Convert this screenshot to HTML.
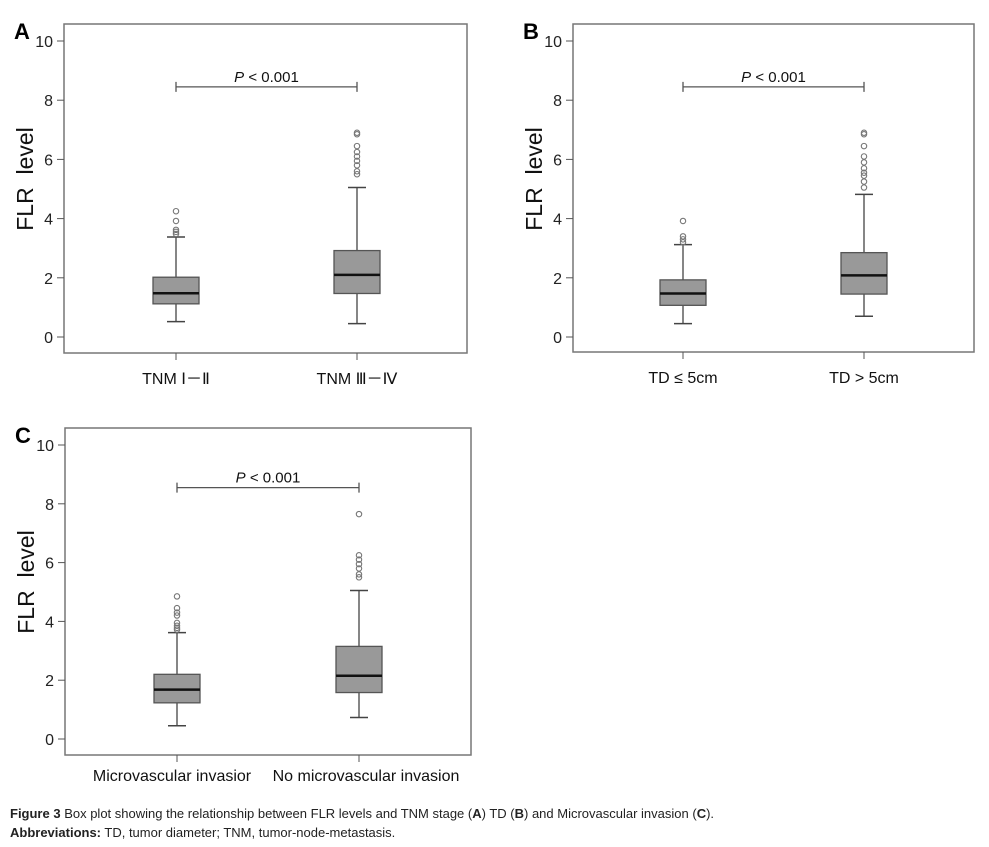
<!DOCTYPE html>
<html><head><meta charset="utf-8"><style>
body{margin:0;background:#fff;width:989px;height:847px;overflow:hidden;font-family:"Liberation Sans",sans-serif}
svg{position:absolute;left:0;top:0}
.cap{position:absolute;left:10px;font-size:13px;color:#222;white-space:nowrap}
</style></head><body>
<svg id="fig" width="989" height="847"></svg>
<div class="cap" style="top:806px"><b>Figure 3</b> Box plot showing the relationship between FLR levels and TNM stage (<b>A</b>) TD (<b>B</b>) and Microvascular invasion (<b>C</b>).</div>
<div class="cap" style="top:825px"><b>Abbreviations:</b> TD, tumor diameter; TNM, tumor-node-metastasis.</div>
<script>
const yTicks=[0,2,4,6,8,10];
const catsA=["TNM  Ⅰ－Ⅱ","TNM Ⅲ－Ⅳ"];
const catsB=["TD ≤ 5cm","TD > 5cm"];
const catsC=["Microvascular invasior","No microvascular invasion"];
const statsA=[[0.52,1.12,1.48,2.02,3.38],[0.45,1.47,2.1,2.92,5.05]];
const statsB=[[0.45,1.07,1.47,1.93,3.12],[0.7,1.45,2.08,2.85,4.82]];
const statsC=[[0.45,1.23,1.68,2.2,3.62],[0.73,1.58,2.15,3.15,5.05]];
const outA=[[3.48,3.55,3.62,3.92,4.25],[5.5,5.6,5.8,5.95,6.1,6.25,6.45,6.85,6.9]];
const outB=[[3.2,3.3,3.4,3.92],[5.05,5.25,5.45,5.55,5.7,5.9,6.1,6.45,6.85,6.9]];
const outC=[[3.72,3.78,3.85,3.95,4.2,4.3,4.45,4.85],[5.5,5.6,5.8,5.95,6.1,6.25,7.65]];
const pBar=[8.45,8.45,8.55];
const svg=document.getElementById('fig');
const NS='http://www.w3.org/2000/svg';
function mk(t,a,txt){const e=document.createElementNS(NS,t);for(const k in a)e.setAttribute(k,a[k]);if(txt!==undefined)e.textContent=txt;svg.appendChild(e);return e;}
function panel(p){
 const y=v=>p.y0-(p.y0-p.y10)*v/10;
 let e=mk('rect',{x:p.fx0,y:p.fy0,width:p.fx1-p.fx0,height:p.fy1-p.fy0,fill:'none',stroke:'#777','stroke-width':1.5});
 
 e=mk('text',{x:p.fx0-50,y:p.fy0+15,'font-size':22,'font-weight':'bold'},p.id.toUpperCase());
 
 yTicks.forEach(t=>{
  e=mk('line',{x1:p.fx0-7,x2:p.fx0,y1:y(t),y2:y(t),stroke:'#555'});
  
  e=mk('text',{x:p.fx0-11,y:y(t)+6,'font-size':16,'text-anchor':'end',fill:'#222'},String(t));
  
 });
 const ym=(y(0)+y(10))/2-10;
 e=mk('text',{x:0,y:0,'font-size':23,'text-anchor':'middle',transform:`translate(${p.fx0-31},${ym}) rotate(-90)`,fill:'#111'},'FLR\u00a0\u00a0level');
 
 p.cats.forEach((c,i)=>{
  const cx=p.cx[i],s=p.stats[i],hw=23;
  e=mk('line',{x1:cx,x2:cx,y1:p.fy1,y2:p.fy1+7,stroke:'#555'});
  
  e=mk('text',{x:cx+p.lo[i],y:p.fy1+p.lab,'font-size':p.lfs,'text-anchor':'middle',fill:'#111'},c);
  
  e=mk('line',{x1:cx,x2:cx,y1:y(s[0]),y2:y(s[4]),stroke:'#444','stroke-width':1.3});
  
  [s[0],s[4]].forEach(v=>{e=mk('line',{x1:cx-9,x2:cx+9,y1:y(v),y2:y(v),stroke:'#444','stroke-width':1.5});
   });
  e=mk('rect',{x:cx-hw,y:y(s[3]),width:2*hw,height:y(s[1])-y(s[3]),fill:'#999',stroke:'#555','stroke-width':1.3});
  
  e=mk('line',{x1:cx-hw,x2:cx+hw,y1:y(s[2]),y2:y(s[2]),stroke:'#111','stroke-width':2.5});
  
  p.out[i].forEach(v=>{e=mk('circle',{cx:cx,cy:y(v),r:2.7,fill:'none',stroke:'#777','stroke-width':1.1});
   });
 });
 const by=y(p.pb);
 e=mk('line',{x1:p.cx[0],x2:p.cx[1],y1:by,y2:by,stroke:'#555','stroke-width':1.3});
 
 p.cx.forEach(x=>{e=mk('line',{x1:x,x2:x,y1:by-5,y2:by+5,stroke:'#555','stroke-width':1.3});
  });
 e=mk('text',{x:(p.cx[0]+p.cx[1])/2,y:by-5,'font-size':15,'text-anchor':'middle',fill:'#111'});
 
 e.innerHTML='<tspan font-style="italic">P</tspan> &lt; 0.001';
}
panel({id:'a',fx0:64,fx1:467,fy0:24,fy1:353,y10:41,y0:337,cx:[176,357],cats:catsA,stats:statsA,out:outA,pb:pBar[0],lab:31,lfs:16,lo:[0,0]});
panel({id:'b',fx0:573,fx1:974,fy0:24,fy1:352,y10:41,y0:337,cx:[683,864],cats:catsB,stats:statsB,out:outB,pb:pBar[1],lab:31,lfs:16,lo:[0,0]});
panel({id:'c',fx0:65,fx1:471,fy0:428,fy1:755,y10:445,y0:739,cx:[177,359],cats:catsC,stats:statsC,out:outC,pb:pBar[2],lab:26,lfs:16,lo:[-5,7]});
</script>
</body></html>
